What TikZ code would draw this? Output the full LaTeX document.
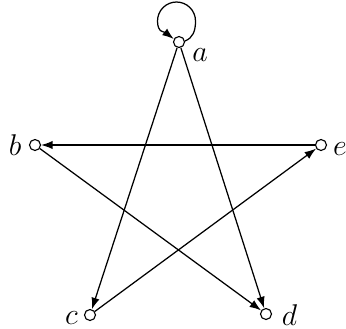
\documentclass[tikz,border=0pt]{standalone}
\usetikzlibrary{arrows.meta}
\begin{document}
\begin{tikzpicture}[x=0.4pt,y=-0.4pt,
  vert/.style={circle,draw,line width=0.45pt,inner sep=0pt,minimum size=4.4pt},
  lab/.style={inner sep=0pt,font=\fontsize{13}{15}\selectfont},
  arr/.style={-{Latex[length=4.6pt,width=3.3pt]},line width=0.5pt}]
\useasboundingbox (0,0) rectangle (346,328);
\node[vert] (a) at (179,42) {};
\node[vert] (b) at (35,145) {};
\node[vert] (c) at (90,315) {};
\node[vert] (d) at (266,314) {};
\node[vert] (e) at (321,145) {};
\node[lab] (la) at (200,55) {$a$};
\node[lab] (lb) at (15,145.5) {$b$};
\node[lab] (lc) at (71.5,318.5) {$c$};
\node[lab] (ld) at (289.5,315) {$d$};
\node[lab] (le) at (340,149) {$e$};
\coordinate (lr) at (195.5,21);
\draw[arr] (a) -- (c);
\draw[arr] (a) -- (d);
\draw[arr] (e) -- (b);
\draw[arr] (b) -- (d);
\draw[arr] (c) -- (e);
\draw[arr] (a.10) .. controls +(8,-3) and +(0,10) .. (lr)
  arc[start angle=0,end angle=180,radius=7.6pt]
  .. controls +(0,12) and +(-9,-7) .. (a.150);
\end{tikzpicture}
\end{document}
